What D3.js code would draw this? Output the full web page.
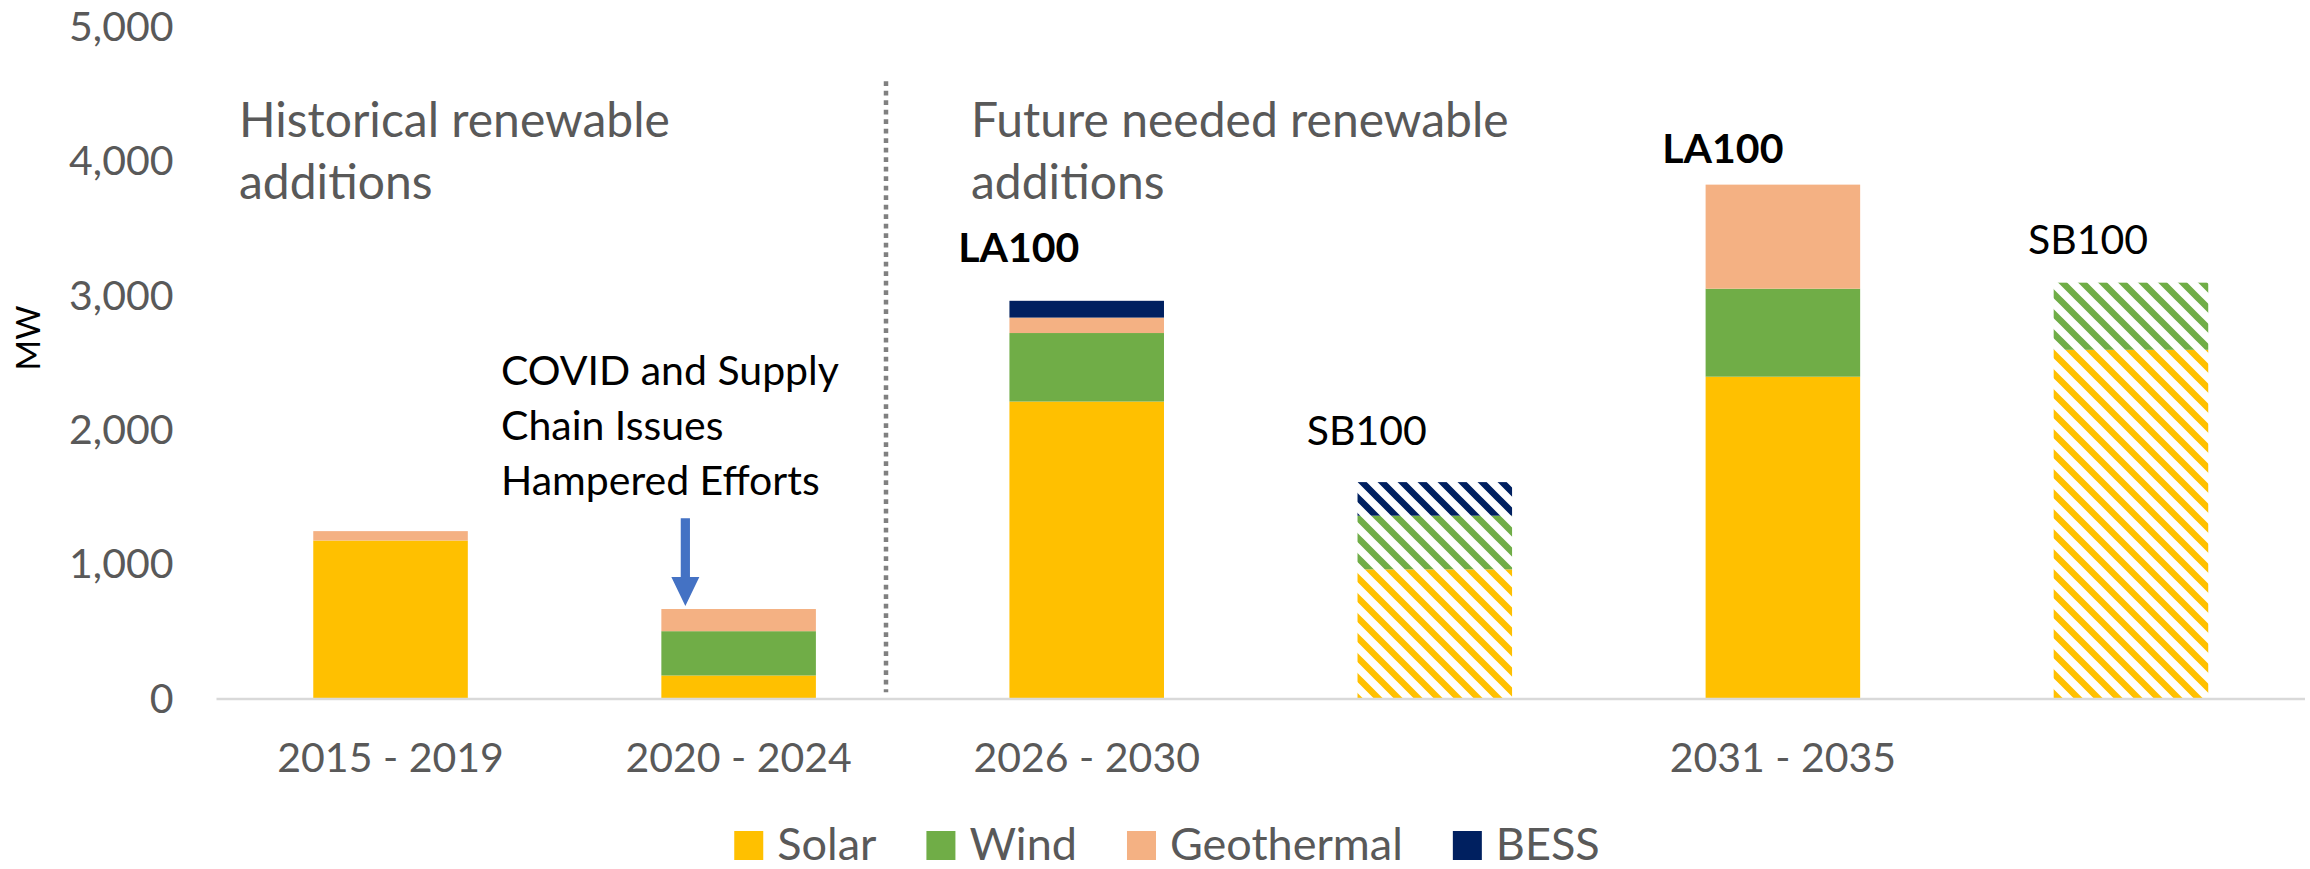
<!DOCTYPE html>
<html>
<head>
<meta charset="utf-8">
<script src="https://d3js.org/d3.v7.min.js"></script>
<style>
  body { margin: 0; background: #fff; }
  text { font-family: Lato, "Open Sans", sans-serif; }
</style>
</head>
<body>
<svg width="2310" height="869"></svg>

<script>
    // data (MW added per period)
    var categories = ["2015 - 2019", "2020 - 2024", "2026 - 2030 LA100", "2026 - 2030 SB100", "2031 - 2035 LA100", "2031 - 2035 SB100"];
    var tickLabels = ["2015 - 2019", "2020 - 2024", "2026 - 2030", "", "2031 - 2035", ""];
    var solar      = [1180, 175, 2215, 965, 2400, 2600];
    var wind       = [0,    330, 510,  400, 655,  500];
    var geothermal = [70,   165, 115,  0,   775,  0];
    var bess       = [0,    0,   125,  250, 0,    0];
    var hatched    = [false, false, false, true, false, true];
    var scenario   = ["", "", "LA100", "SB100", "LA100", "SB100"];
    var keys = ["Solar", "Wind", "Geothermal", "BESS"];
    var yTicks = [0, 1000, 2000, 3000, 4000, 5000];

    var colors = {Solar: "#FFC000", Wind: "#70AD47", Geothermal: "#F4B183", BESS: "#002060"};

    // where the scenario labels sit (MW level of baseline, px shift from bar centre)
    var scenarioPos = [null, null, {at: 3254, dx: -68}, {at: 1891, dx: -68}, {at: 3991, dx: -60}, {at: 3313, dx: -43}];

    var table = categories.map(function(c, i) {
        return {cat: c, Solar: solar[i], Wind: wind[i], Geothermal: geothermal[i], BESS: bess[i], hatch: hatched[i]};
    });

    var svg = d3.select("svg");

    var x = d3.scaleBand()
        .domain(categories)
        .range([216.5, 2305])
        .paddingInner(0.556)
        .paddingOuter(0.278);

    var y = d3.scaleLinear()
        .domain([0, 5000])
        .range([699, 27.5]);

    // hatch patterns for the SB100 bars
    var defs = svg.append("defs");
    keys.forEach(function(k) {
        var p = defs.append("pattern")
            .attr("id", "hatch-" + k)
            .attr("patternUnits", "userSpaceOnUse")
            .attr("width", 20)
            .attr("height", 20);
        p.append("path")
            .attr("d", "M-5,-5 L25,25 M-5,15 L5,25 M15,-5 L25,5")
            .attr("stroke", colors[k])
            .attr("stroke-width", 6.5);
    });

    // y axis
    var yAxis = svg.append("g")
        .attr("transform", "translate(216.5,0)")
        .call(d3.axisLeft(y).tickValues(yTicks).tickSize(0).tickPadding(43).tickFormat(d3.format(",")));
    yAxis.select(".domain").remove();
    yAxis.selectAll("text")
        .attr("font-size", 41)
        .attr("fill", "#595959")
        .style("font-family", "Lato");

    // MW
    svg.append("text")
        .attr("transform", "translate(40,338) rotate(-90)")
        .attr("text-anchor", "middle")
        .attr("font-size", 33)
        .attr("fill", "#000")
        .text("MW");

    // stacked bars
    var stack = d3.stack().keys(keys)(table);

    svg.append("g")
        .selectAll("g")
        .data(stack)
        .enter()
        .append("g")
        .each(function(layer) {
            d3.select(this).selectAll("rect")
                .data(layer.filter(function(d) { return d[1] > d[0]; }))
                .enter()
                .append("rect")
                .attr("x", function(d) { return x(d.data.cat); })
                .attr("y", function(d) { return y(d[1]); })
                .attr("width", x.bandwidth())
                .attr("height", function(d) { return y(d[0]) - y(d[1]); })
                .attr("fill", function(d) { return d.data.hatch ? "url(#hatch-" + layer.key + ")" : colors[layer.key]; });
        });

    // x axis
    svg.append("line")
        .attr("x1", 216.5).attr("x2", 2305)
        .attr("y1", y(0)).attr("y2", y(0))
        .attr("stroke", "#D9D9D9")
        .attr("stroke-width", 2.5);

    var xAxis = svg.append("g")
        .attr("transform", "translate(0," + y(0) + ")")
        .call(d3.axisBottom(x).tickSize(0).tickPadding(44).tickFormat(function(d, i) { return tickLabels[i]; }));
    xAxis.select(".domain").remove();
    xAxis.selectAll("text")
        .attr("font-size", 41)
        .attr("fill", "#595959")
        .style("font-family", "Lato");

    // scenario labels
    svg.append("g")
        .selectAll("text")
        .data(categories.filter(function(c, i) { return scenario[i]; }))
        .enter()
        .append("text")
        .attr("x", function(c) { var i = categories.indexOf(c); return x(c) + x.bandwidth() / 2 + scenarioPos[i].dx; })
        .attr("y", function(c) { return y(scenarioPos[categories.indexOf(c)].at); })
        .attr("text-anchor", "middle")
        .attr("font-size", 41)
        .attr("font-weight", function(c) { return scenario[categories.indexOf(c)] === "LA100" ? "bold" : "normal"; })
        .attr("fill", "#000")
        .text(function(c) { return scenario[categories.indexOf(c)]; });

    // divider between history and future
    svg.append("line")
        .attr("x1", 886).attr("x2", 886)
        .attr("y1", y(4600)).attr("y2", y(50))
        .attr("stroke", "#808080")
        .attr("stroke-width", 4.5)
        .attr("stroke-dasharray", "4.7,4.8");

    // section titles
    var titles = [
        {x: 239, lines: ["Historical renewable", "additions"]},
        {x: 971, lines: ["Future needed renewable", "additions"]}
    ];
    titles.forEach(function(t) {
        var tx = svg.append("text")
            .attr("x", t.x)
            .attr("y", 137)
            .attr("font-size", 48)
            .attr("fill", "#595959");
        t.lines.forEach(function(l, i) {
            tx.append("tspan").attr("x", t.x).attr("dy", i ? 62 : 0).text(l);
        });
    });

    // COVID note and arrow
    var note = svg.append("text")
        .attr("x", 501)
        .attr("y", 385)
        .attr("font-size", 41)
        .attr("fill", "#000");
    ["COVID and Supply", "Chain Issues", "Hampered Efforts"].forEach(function(l, i) {
        note.append("tspan").attr("x", 501).attr("dy", i ? 55 : 0).text(l);
    });

    var arrowX = x(categories[1]) + 24,
        arrowTip = y(solar[1] + wind[1] + geothermal[1]) - 3,
        arrowTop = y(1345);
    svg.append("path")
        .attr("d", "M" + (arrowX - 4.6) + "," + arrowTop + " H" + (arrowX + 4.6) + " V" + (arrowTip - 29) + " H" + (arrowX + 14) +
                   " L" + arrowX + "," + arrowTip + " L" + (arrowX - 14) + "," + (arrowTip - 29) + " H" + (arrowX - 4.6) + " Z")
        .attr("fill", "#4472C4");

    // legend
    var legend = svg.append("g").attr("transform", "translate(0,831)");
    var items = legend.selectAll("g")
        .data(keys)
        .enter()
        .append("g");
    items.append("rect")
        .attr("width", 29)
        .attr("height", 29)
        .attr("fill", function(d) { return colors[d]; });
    items.append("text")
        .attr("x", 43)
        .attr("y", 29)
        .attr("font-size", 45)
        .attr("fill", "#595959")
        .text(function(d) { return d; });

    var pos = 0, offsets = [];
    items.each(function() {
        offsets.push(pos);
        pos += 43 + d3.select(this).select("text").node().getComputedTextLength() + 50;
    });
    var start = 1167 - (pos - 50) / 2;
    items.attr("transform", function(d, i) { return "translate(" + (start + offsets[i]) + ",0)"; });
</script>
</body>
</html>
